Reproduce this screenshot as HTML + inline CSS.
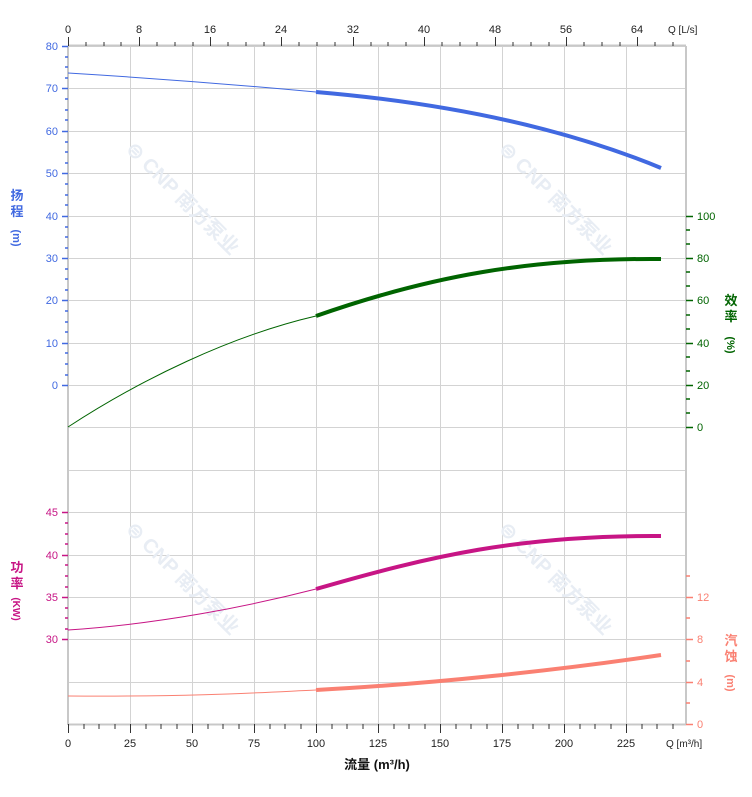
<!DOCTYPE html>
<html><head><meta charset="utf-8"><style>
html,body{margin:0;padding:0;background:#fff;}
svg{display:block;font-family:"Liberation Sans","Noto Sans CJK SC",sans-serif;}
</style></head><body>
<svg width="752" height="797" viewBox="0 0 752 797" xmlns="http://www.w3.org/2000/svg">
<g stroke="#d3d3d3" stroke-width="1" fill="none">
<path d="M130.5 46V724M192.5 46V724M254.5 46V724M316.5 46V724M378.5 46V724M440.5 46V724M502.5 46V724M564.5 46V724M626.5 46V724"/>
<path d="M68 46.5H686M68 88.5H686M68 131.5H686M68 173.5H686M68 216.5H686M68 258.5H686M68 300.5H686M68 343.5H686M68 385.5H686M68 427.5H686M68 470.5H686M68 512.5H686M68 555.5H686M68 597.5H686M68 639.5H686M68 682.5H686"/>
</g>
<g stroke="#c8c8c8" stroke-width="2" fill="none">
<path d="M68 46V725M686 46V725M68 45.5H686M68 724.5H686"/>
</g>
<g fill="#e8edf4" font-size="20" font-weight="bold">
<text transform="translate(125,150) rotate(45)">⊜ CNP 南方泵业</text>
<text transform="translate(498,150) rotate(45)">⊜ CNP 南方泵业</text>
<text transform="translate(125,530) rotate(45)">⊜ CNP 南方泵业</text>
<text transform="translate(498,530) rotate(45)">⊜ CNP 南方泵业</text>
</g>
<g stroke="#333" stroke-width="1">
<path d="M68.5 724V733M130.5 724V733M192.5 724V733M254.5 724V733M316.5 724V733M378.5 724V733M440.5 724V733M502.5 724V733M564.5 724V733M626.5 724V733"/>
<path d="M84 724V729M99 724V729M115 724V729M146 724V729M161 724V729M177 724V729M208 724V729M223 724V729M239 724V729M270 724V729M285 724V729M301 724V729M332 724V729M347 724V729M363 724V729M394 724V729M409 724V729M425 724V729M456 724V729M471 724V729M487 724V729M518 724V729M533 724V729M549 724V729M580 724V729M595 724V729M611 724V729M642 724V729M657 724V729M673 724V729"/>
<path d="M68.5 46V37M139.5 46V37M210.5 46V37M281.5 46V37M353.5 46V37M424.5 46V37M495.5 46V37M566.5 46V37M637.5 46V37"/>
<path d="M86 46V42M104 46V42M121 46V42M157 46V42M175 46V42M193 46V42M228 46V42M246 46V42M264 46V42M299 46V42M317 46V42M335 46V42M371 46V42M388 46V42M406 46V42M442 46V42M460 46V42M477 46V42M513 46V42M531 46V42M549 46V42M584 46V42M602 46V42M620 46V42M655 46V42M673 46V42"/>
</g>
<g stroke="#4169e1" stroke-width="1.5">
<path d="M62 46.5H68M62 88.5H68M62 131.5H68M62 173.5H68M62 216.5H68M62 258.5H68M62 300.5H68M62 343.5H68M62 385.5H68"/>
<path d="M65 57H68M65 67H68M65 78H68M65 99H68M65 110H68M65 120H68M65 142H68M65 152H68M65 163H68M65 184H68M65 195H68M65 205H68M65 227H68M65 237H68M65 248H68M65 269H68M65 279H68M65 290H68M65 311H68M65 322H68M65 332H68M65 353H68M65 364H68M65 375H68"/>
</g>
<g stroke="#006400" stroke-width="1.5">
<path d="M686 216.5H693M686 258.5H693M686 300.5H693M686 343.5H693M686 385.5H693M686 427.5H693"/>
<path d="M686 230H690M686 244H690M686 272H690M686 286H690M686 315H690M686 329H690M686 357H690M686 371H690M686 399H690M686 413H690"/>
</g>
<g stroke="#c71585" stroke-width="1.5">
<path d="M62 512.5H68M62 555.5H68M62 597.5H68M62 639.5H68"/>
<path d="M65 523H68M65 534H68M65 544H68M65 565H68M65 576H68M65 587H68M65 608H68M65 618H68M65 629H68"/>
</g>
<g stroke="#fa8072" stroke-width="1.5">
<path d="M686 597.5H693M686 639.5H693M686 682.5H693M686 724.5H693"/>
<path d="M686 576H690M686 618H690M686 661H690M686 703H690"/>
</g>
<g fill="none">
<path d="M68 73 C150 78 240 85 316 92" stroke="#4169e1" stroke-width="1"/>
<path d="M316 92 C410 100 540 118 661 168" stroke="#4169e1" stroke-width="4"/>
<path d="M68 427 C140 380 230 336 316 316" stroke="#006400" stroke-width="1"/>
<path d="M316 316 C430 276 530 258 661 259" stroke="#006400" stroke-width="4"/>
<path d="M68 630 C160 624 250 606 316 589" stroke="#c71585" stroke-width="1"/>
<path d="M316 589 C430 556 520 535 661 536" stroke="#c71585" stroke-width="4"/>
<path d="M68 696 C200 697 270 692 316 690" stroke="#fa8072" stroke-width="1"/>
<path d="M316 690 C430 684 560 670 661 655" stroke="#fa8072" stroke-width="4"/>
</g>
<g font-size="11" fill="#222" text-anchor="middle">
<text x="68" y="747">0</text><text x="130" y="747">25</text><text x="192" y="747">50</text><text x="254" y="747">75</text><text x="316" y="747">100</text><text x="378" y="747">125</text><text x="440" y="747">150</text><text x="502" y="747">175</text><text x="564" y="747">200</text><text x="626" y="747">225</text>
<text x="68" y="33">0</text><text x="139" y="33">8</text><text x="210" y="33">16</text><text x="281" y="33">24</text><text x="353" y="33">32</text><text x="424" y="33">40</text><text x="495" y="33">48</text><text x="566" y="33">56</text><text x="637" y="33">64</text>
</g>
<text x="668" y="33" font-size="10" fill="#222">Q [L/s]</text>
<text x="666" y="747" font-size="10" fill="#222">Q [m³/h]</text>
<text x="377" y="769" font-size="13" font-weight="bold" fill="#111" text-anchor="middle">流量 (m³/h)</text>
<g font-size="11" fill="#4169e1" text-anchor="end">
<text x="58" y="50">80</text><text x="58" y="92">70</text><text x="58" y="135">60</text><text x="58" y="177">50</text><text x="58" y="220">40</text><text x="58" y="262">30</text><text x="58" y="304">20</text><text x="58" y="347">10</text><text x="58" y="389">0</text>
</g>
<g font-size="11" fill="#c71585" text-anchor="end">
<text x="58" y="516">45</text><text x="58" y="559">40</text><text x="58" y="601">35</text><text x="58" y="643">30</text>
</g>
<g font-size="11" fill="#006400">
<text x="697" y="220">100</text><text x="697" y="262">80</text><text x="697" y="304">60</text><text x="697" y="347">40</text><text x="697" y="389">20</text><text x="697" y="431">0</text>
</g>
<g font-size="11" fill="#fa8072">
<text x="697" y="601">12</text><text x="697" y="643">8</text><text x="697" y="686">4</text><text x="697" y="728">0</text>
</g>
<g font-size="13" font-weight="bold" text-anchor="middle">
<text fill="#4169e1"><tspan x="17" y="200">扬</tspan><tspan x="17" y="216">程</tspan></text>
<text fill="#4169e1" font-size="11" transform="translate(13,238) rotate(90)" text-anchor="middle">(m)</text>
<text fill="#c71585"><tspan x="17" y="572">功</tspan><tspan x="17" y="588">率</tspan></text>
<text fill="#c71585" font-size="10" transform="translate(13,609) rotate(90)" text-anchor="middle">(KW)</text>
<text fill="#006400"><tspan x="731" y="305">效</tspan><tspan x="731" y="321">率</tspan></text>
<text fill="#006400" font-size="11" transform="translate(727,345) rotate(90)" text-anchor="middle">(%)</text>
<text fill="#fa8072"><tspan x="731" y="645">汽</tspan><tspan x="731" y="661">蚀</tspan></text>
<text fill="#fa8072" font-size="11" transform="translate(727,683) rotate(90)" text-anchor="middle">(m)</text>
</g>
</svg>
</body></html>
